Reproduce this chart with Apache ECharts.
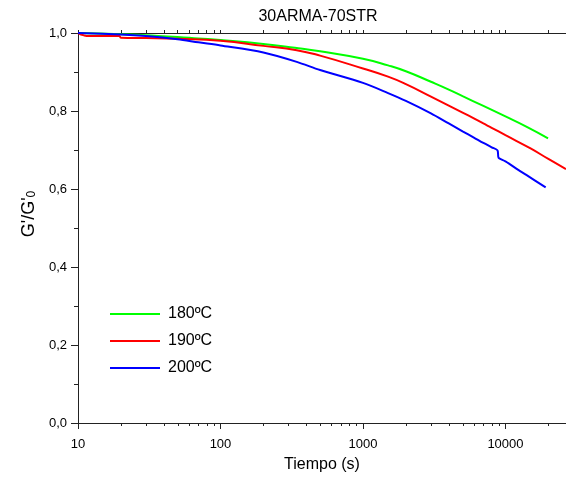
<!DOCTYPE html>
<html>
<head>
<meta charset="utf-8">
<script src="https://cdn.jsdelivr.net/npm/echarts@6/dist/echarts.min.js"></script>
<style>
html,body{margin:0;padding:0;background:#fff;}
#c{width:566px;height:481px;}
</style>
</head>
<body>
<div id="c"></div>
<script>
// ---- data ----
const seriesNames = ['180ºC', '190ºC', '200ºC'];

const t180 = [10, 20, 30, 50, 70, 100, 200, 333, 500, 1000, 1500, 2000, 3000, 4000, 5000, 7000, 10000, 14000, 19900];
const v180 = [1.000, 0.997, 0.994, 0.990, 0.986, 0.982, 0.972, 0.962, 0.953, 0.934, 0.917, 0.902, 0.875, 0.855, 0.838, 0.813, 0.786, 0.760, 0.730];

const t190 = [10, 11, 12, 19.5, 20, 30, 50, 100, 200, 343, 500, 1000, 1500, 2000, 3000, 4000, 5000, 6000, 7000, 8000, 10000, 15000, 20000, 26600];
const v190 = [1.000, 0.994, 0.992, 0.992, 0.988, 0.987, 0.985, 0.980, 0.967, 0.956, 0.942, 0.909, 0.888, 0.869, 0.837, 0.814, 0.796, 0.781, 0.768, 0.757, 0.738, 0.704, 0.677, 0.651];

const t200 = [10, 20, 30, 50, 70, 100, 200, 343, 500, 1000, 1500, 2000, 3000, 4000, 5000, 6000, 7000, 8000, 8800, 8900, 9000, 10000, 12300, 14000, 19150];
const v200 = [1.000, 0.996, 0.992, 0.984, 0.976, 0.968, 0.950, 0.926, 0.905, 0.872, 0.846, 0.826, 0.794, 0.768, 0.748, 0.732, 0.718, 0.707, 0.699, 0.683, 0.679, 0.671, 0.649, 0.636, 0.604];

const xMajorTicks = [10, 100, 1000, 10000];
const xMinorTicks = [20, 30, 40, 50, 60, 70, 80, 90,
                     200, 300, 400, 500, 600, 700, 800, 900,
                     2000, 3000, 4000, 5000, 6000, 7000, 8000, 9000,
                     20000];
const xMin = 10, xMax = 26600;

const colors = ['#00ff00', '#ff0000', '#0000ff'];
const smoothing = [0.5, 0.5, 0.3];
const FONT = '"Liberation Sans", Arial, sans-serif';

function pairs(ts, vs) { return ts.map((t, i) => [t, vs[i]]); }

const chart = echarts.init(document.getElementById('c'), null, {renderer: 'canvas'});

const lineSeries = [[t180, v180], [t190, v190], [t200, v200]].map((d, i) => ({
  name: seriesNames[i],
  type: 'line',
  xAxisIndex: 0,
  data: pairs(d[0], d[1]),
  showSymbol: false,
  symbol: 'none',
  smooth: smoothing[i],
  lineStyle: {color: colors[i], width: 2},
  itemStyle: {color: colors[i]},
  animation: false,
  z: 3
}));

const option = {
  backgroundColor: '#ffffff',
  animation: false,
  textStyle: {fontFamily: FONT},
  title: {
    text: '30ARMA-70STR',
    left: 313,
    textAlign: 'center',
    top: 4,
    textStyle: {fontFamily: FONT, fontSize: 16, fontWeight: 'normal', color: '#000'}
  },
  grid: {left: 78, top: 33, right: 0, bottom: 58, containLabel: false, outerBoundsMode: 'none'},
  legend: {
    data: seriesNames,
    orient: 'vertical',
    left: 110,
    top: 306,
    padding: 0,
    itemWidth: 50,
    itemHeight: 2,
    itemGap: 11,
    icon: 'rect',
    textStyle: {fontFamily: FONT, fontSize: 16, color: '#000', padding: [0, 0, 0, 3], lineHeight: 16}
  },
  xAxis: [{
    type: 'log',
    position: 'bottom',
    min: xMin,
    max: xMax,
    name: 'Tiempo (s)',
    nameLocation: 'middle',
    nameGap: 34,
    nameTextStyle: {fontFamily: FONT, fontSize: 16, color: '#000'},
    axisLine: {show: true, onZero: false, lineStyle: {color: '#222', width: 1}},
    axisTick: {show: true, inside: false, length: 6, customValues: xMajorTicks, lineStyle: {color: '#222'}},
    minorTick: {show: false},
    axisLabel: {customValues: xMajorTicks, fontFamily: FONT, fontSize: 13, color: '#000', margin: 15,
                formatter: v => String(Math.round(v))},
    splitLine: {show: false}
  }, {
    type: 'log',
    position: 'top',
    min: xMin,
    max: xMax,
    axisLine: {show: true, onZero: false, lineStyle: {color: '#222', width: 1}},
    axisTick: {show: true, inside: false, length: 3, customValues: xMajorTicks.concat(xMinorTicks), lineStyle: {color: '#222'}},
    axisLabel: {show: false},
    splitLine: {show: false}
  }],
  yAxis: {
    type: 'value',
    min: 0,
    max: 1,
    interval: 0.2,
    name: '{a|G\'/G\'}{s|0}',
    nameLocation: 'middle',
    nameGap: 39,
    nameTextStyle: {
      fontFamily: FONT, color: '#000',
      padding: [0, 0, 0, 28],
      rich: {
        a: {fontFamily: FONT, fontSize: 18, color: '#000', verticalAlign: 'top', lineHeight: 18},
        s: {fontFamily: FONT, fontSize: 12, color: '#000', verticalAlign: 'bottom', lineHeight: 12, padding: [20, 0, 0, 0]}
      }
    },
    axisLine: {show: true, lineStyle: {color: '#222', width: 1}},
    axisTick: {show: true, inside: false, length: 7, lineStyle: {color: '#222'}},
    minorTick: {show: true, splitNumber: 2, length: 4, lineStyle: {color: '#222'}},
    axisLabel: {fontFamily: FONT, fontSize: 13, color: '#000', margin: 11,
                formatter: v => v.toFixed(1).replace('.', ',')},
    splitLine: {show: false}
  },
  series: lineSeries.concat([{
    name: 'minorTicks',
    type: 'custom',
    xAxisIndex: 0,
    silent: true,
    clip: false,
    data: xMinorTicks.map(v => [v, 0]),
    encode: {x: 0, y: 1},
    renderItem: function (params, api) {
      const p = api.coord([api.value(0), 0]);
      const x = Math.round(p[0]) + 0.5;
      return {
        type: 'line',
        shape: {x1: x, y1: p[1], x2: x, y2: p[1] + 3},
        style: {stroke: '#222', lineWidth: 1}
      };
    },
    animation: false,
    z: 2
  }])
};

chart.setOption(option);
</script>
</body>
</html>
